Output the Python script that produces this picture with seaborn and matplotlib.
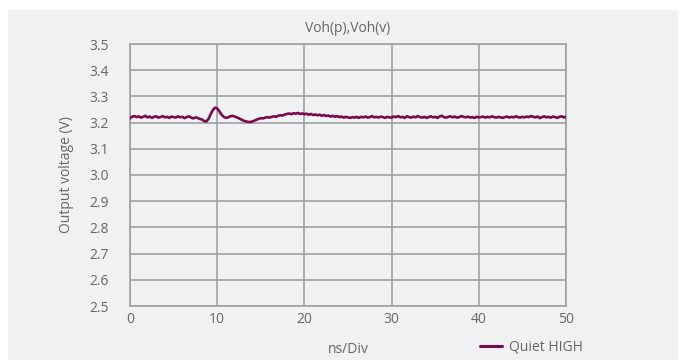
import numpy as np
import pandas as pd
import matplotlib
matplotlib.use("Agg")
import matplotlib.pyplot as plt
import seaborn as sns
from matplotlib.patches import Rectangle
from matplotlib.lines import Line2D

# ---- data ----
title = "Voh(p),Voh(v)"
x_label = "ns/Div"
y_label = "Output voltage (V)"
series_name = "Quiet HIGH"
t_start, t_stop, t_step = 0.0, 50.0, 0.25
voltage = [
    3.216, 3.223, 3.225, 3.221, 3.224, 3.219, 3.222, 3.226, 3.220, 3.223, 3.218,
    3.222, 3.224, 3.219, 3.221, 3.225, 3.220, 3.222, 3.218, 3.223, 3.221, 3.219,
    3.224, 3.220, 3.222, 3.217, 3.221, 3.224, 3.219, 3.216, 3.220, 3.218, 3.214,
    3.212, 3.206, 3.204, 3.214, 3.232, 3.248, 3.257, 3.254,
    3.243, 3.230, 3.222, 3.218, 3.220, 3.224, 3.226, 3.223,
    3.220, 3.216, 3.212, 3.208, 3.205, 3.203, 3.202, 3.204,
    3.207, 3.211, 3.214, 3.217, 3.216, 3.219, 3.221, 3.219,
    3.222, 3.224, 3.222, 3.226, 3.228, 3.227, 3.231, 3.233,
    3.235, 3.232, 3.236, 3.234, 3.237, 3.233, 3.235, 3.232,
    3.234, 3.230, 3.233, 3.229, 3.231, 3.228, 3.230, 3.226,
    3.229, 3.225, 3.227, 3.223, 3.226, 3.222, 3.225, 3.221,
    3.223, 3.219, 3.222, 3.220, 3.218, 3.221, 3.219, 3.222,
    3.218, 3.222, 3.220, 3.223, 3.219, 3.221, 3.225, 3.220,
    3.222, 3.219, 3.223, 3.221, 3.218, 3.222, 3.220, 3.219,
    3.223, 3.221, 3.225, 3.220, 3.222, 3.218, 3.224, 3.221,
    3.219, 3.223, 3.220, 3.225, 3.221, 3.219, 3.222, 3.218,
    3.221, 3.224, 3.220, 3.222, 3.218, 3.223, 3.226, 3.221,
    3.219, 3.222, 3.224, 3.220, 3.223, 3.219, 3.221, 3.225,
    3.222, 3.220, 3.223, 3.219, 3.221, 3.218, 3.222, 3.220,
    3.221, 3.223, 3.219, 3.222, 3.220, 3.224, 3.221, 3.219,
    3.222, 3.220, 3.218, 3.221, 3.223, 3.219, 3.222, 3.220,
    3.224, 3.221, 3.219, 3.222, 3.220, 3.223, 3.221, 3.225,
    3.222, 3.220, 3.223, 3.217, 3.221, 3.224, 3.220, 3.222,
    3.219, 3.223, 3.221, 3.218, 3.222, 3.224, 3.220, 3.222,
]
x_ticks = [0, 10, 20, 30, 40, 50]
y_ticks = [2.5, 2.6, 2.7, 2.8, 2.9, 3.0, 3.1, 3.2, 3.3, 3.4, 3.5]

time = np.linspace(t_start, t_stop, len(voltage))
df = pd.DataFrame({"time": time, "voltage": voltage, "series": series_name})

# ---- style ----
sns.set_theme(style="white")
plt.rcParams["font.family"] = ["Open Sans", "DejaVu Sans"]
bg = "#f0f1f3"
grid_c = "#a0a0a0"
text_c = "#666666"
line_c = "#7a0a50"
fs = 10

fig = plt.figure(figsize=(6.83, 3.6), dpi=100)
fig.patch.set_facecolor("white")
fig.patches.append(Rectangle((8 / 683, 0), 670 / 683, 350 / 360, transform=fig.transFigure,
                             facecolor=bg, edgecolor="none", zorder=-10))

ax = fig.add_axes([130 / 683, 1 - 306 / 360, 436 / 683, 262 / 360])
ax.set_facecolor(bg)

sns.lineplot(data=df, x="time", y="voltage", hue="series", palette=[line_c],
             linewidth=1.9, ax=ax, legend=False, zorder=3)

ax.set_xlim(0, 50)
ax.set_ylim(2.5, 3.5)
ax.set_xticks(x_ticks)
ax.set_yticks(y_ticks)
ax.set_xticklabels([str(v) for v in x_ticks])
ax.set_yticklabels([f"{v:.1f}" for v in y_ticks])
ax.grid(True, color=grid_c, linewidth=1.2)
ax.set_axisbelow(True)
for s in ax.spines.values():
    s.set_color(grid_c)
    s.set_linewidth(1.2)
ax.tick_params(axis="both", length=0, colors=text_c, labelsize=fs)
ax.tick_params(axis="y", pad=15)
ax.tick_params(axis="x", pad=4)

ax.set_xlabel(x_label, color=text_c, fontsize=fs, labelpad=11)
ax.set_ylabel(y_label, color=text_c, fontsize=fs, labelpad=11)
ax.set_title(title, color=text_c, fontsize=fs, pad=9)

# legend
handle = Line2D([], [], color=line_c, linewidth=2.2)
leg = fig.legend([handle], [series_name], loc="center left",
                 bbox_to_anchor=(467 / 683, 1 - 347 / 360), frameon=False,
                 fontsize=fs, handlelength=1.6, handletextpad=0.5,
                 labelcolor=text_c)

fig.savefig("out.png", dpi=100, facecolor="white")
